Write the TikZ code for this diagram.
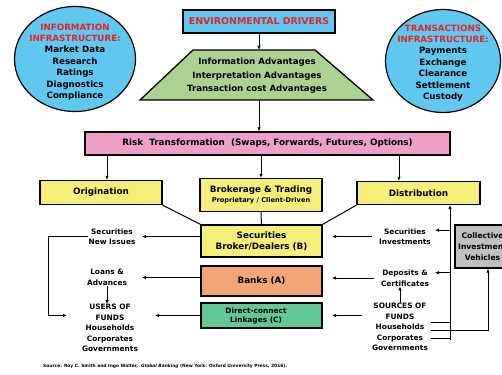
\documentclass[tikz,border=0pt]{standalone}
\usepackage{fontspec}
\setmainfont{DejaVu Sans}
\usetikzlibrary{arrows.meta,shapes.geometric}
\definecolor{skyb}{RGB}{96,200,240}
\definecolor{trapg}{RGB}{172,210,145}
\definecolor{pinkr}{RGB}{240,160,200}
\definecolor{yel}{RGB}{245,238,120}
\definecolor{orng}{RGB}{244,165,120}
\definecolor{tealg}{RGB}{100,200,150}
\definecolor{grayb}{RGB}{192,192,192}
\definecolor{redt}{RGB}{232,35,35}
\begin{document}
\begin{tikzpicture}[x=1pt,y=-1pt,
  every node/.style={inner sep=0pt},
  bx/.style={draw=black, line width=1.3pt, align=center, font=\bfseries\fontsize{8.8}{10.5}\selectfont},
  lbl/.style={align=center, font=\bfseries\fontsize{7.4}{10.5}\selectfont},
  elltxt/.style={align=center, font=\bfseries\fontsize{8.7}{11.4}\selectfont},
  ellbox/.style={draw=black, line width=1.2pt, fill=skyb, ellipse},
  arr/.style={-{Latex[length=4pt,width=3.5pt]}, line width=1pt},
  ln/.style={line width=1pt}]
\useasboundingbox (0,0) rectangle (502,374);
\clip (0,0) rectangle (502,374);

% ellipses
\node[ellbox, minimum width=121pt, minimum height=105pt] (infoell) at (75,59) {};
\node[elltxt] (infotxt) at (75,62) {\textcolor{redt}{INFORMATION}\\\textcolor{redt}{INFRASTRUCTURE:}\\Market Data\\Research\\Ratings\\Diagnostics\\Compliance};
\node[ellbox, minimum width=115pt, minimum height=103pt] (transell) at (443,61) {};
\node[elltxt] (transtxt) at (443,63) {\textcolor{redt}{TRANSACTIONS}\\\textcolor{redt}{INFRASTRUCTURE:}\\Payments\\Exchange\\Clearance\\Settlement\\Custody};

% top
\node[bx, fill=skyb, minimum width=152pt, minimum height=23pt, text=redt, font=\bfseries\fontsize{9.4}{10.5}\selectfont] (env) at (259,21.5) {ENVIRONMENTAL DRIVERS};
\draw[fill=trapg, line width=1.3pt] (193,50) -- (315,50) -- (373,100) -- (140,100) -- cycle;
\coordinate (traptop) at (259,50);
\coordinate (trapbot) at (259,100);
\node[align=center, font=\bfseries\fontsize{8.6}{13.5}\selectfont] (trap) at (257,76) {Information Advantages\\Interpretation Advantages\\Transaction cost Advantages};
\draw[arr] (env.south) -- (traptop);

\node[bx, fill=pinkr, minimum width=365pt, minimum height=23pt] (risk) at (267.5,143.5) {Risk\ \ Transformation\ \ (Swaps, Forwards, Futures, Options)};
\draw[arr] (trapbot) -- (trapbot |- risk.north);

\node[bx, fill=yel, minimum width=122pt, minimum height=24pt] (orig) at (101,192.5) {Origination};
\node[bx, fill=yel, minimum width=122pt, minimum height=33pt] (brok) at (261,195) {Brokerage \& Trading\\[-1pt]{\fontsize{6.6}{8}\selectfont Proprietary / Client-Driven}};
\node[bx, fill=yel, minimum width=123pt, minimum height=23pt] (dist) at (418.5,193) {Distribution};

\draw[arr] ([xshift=6pt]orig.north |- risk.south) -- ([xshift=6pt]orig.north);
\draw[arr] (brok.north |- risk.south) -- (brok.north);
\draw[arr] ([xshift=-19.5pt]dist.north |- risk.south) -- ([xshift=-19.5pt]dist.north);

\node[bx, fill=yel, minimum width=121pt, minimum height=32pt] (bd) at (261.5,241) {Securities\\Broker/Dealers (B)};
\node[bx, fill=orng, minimum width=121pt, minimum height=30pt] (banks) at (261.5,281) {Banks (A)};
\node[bx, fill=tealg, minimum width=121pt, minimum height=25pt] (direct) at (261.5,315.5) {};
\node[align=center, font=\bfseries\fontsize{7.4}{9}\selectfont] (directtxt) at (256,315.5) {Direct-connect\\Linkages (C)};
\node[bx, fill=grayb, minimum width=55pt, minimum height=43pt, font=\bfseries\fontsize{7.6}{11}\selectfont] (coll) at (482.5,246.5) {Collective\\Investment\\Vehicles};

\draw[ln] (orig.south east) -- (bd.north west);
\draw[ln] (dist.south west) -- (bd.north east);
\draw[ln] (brok.south) -- (bd.north);

% left labels
\node[lbl] (secnew) at (112,236.5) {Securities\\New Issues};
\node[lbl] (loans) at (107,277.5) {Loans \&\\Advances};
\node[lbl, anchor=north] (users) at (110,304) {USERS OF\\FUNDS\\Households\\Corporates\\Governments};
\coordinate (lefttip) at (142,0);
\coordinate (utip) at (155,0);
\coordinate (brk) at (48,0);
\coordinate (brktip) at (67,0);
\draw[arr] (bd.west |- secnew) -- (lefttip |- secnew);
\draw[arr] (banks.west |- loans) -- (lefttip |- loans);
\draw[arr] (direct.west) -- (utip |- direct.west);
\draw[arr] (secnew.west) -- (brk |- secnew) -- (brk |- direct.west) -- (brktip |- direct.west);
\draw[arr] (loans.south) -- (loans.south |- users.north);

% right labels
\node[lbl] (secinv) at (405,236.5) {Securities\\Investments};
\node[lbl] (dep) at (405,278) {Deposits \&\\Certificates};
\node[lbl, anchor=north] (src) at (400,303) {SOURCES OF\\FUNDS\\Households\\Corporates\\Governments};
\coordinate (vb) at (450,340);
\coordinate (rtip) at (435,0);
\coordinate (mtip) at (332,0);
\coordinate (sx) at (362,0);
\draw[arr] (vb) -- (vb |- dist.south);
\path ([yshift=-2pt]secinv.north) coordinate (sa);
\path ([yshift=-3pt]dep.north) coordinate (da);
\draw[arr] (sa -| vb) -- (sa -| rtip);
\draw[arr] (da -| vb) -- (da -| rtip);
\draw[arr] (src.north) -- (src.north |- dep.south);
\coordinate (s1) at (431,322);
\coordinate (s2) at (431,330);
\coordinate (s3) at (431,338);
\draw[ln] (s1) -- (s1 -| vb);
\draw[ln] (s3) -- (s3 -| vb);
\draw[arr] (s2) -- ([xshift=5.5pt]coll.south |- s2) -- ([xshift=5.5pt]coll.south);
\draw[arr] ([xshift=-7pt]secinv.west) -- (mtip |- secinv.west);
\draw[arr] ([xshift=-7pt]dep.west) -- (mtip |- dep.west);
\draw[arr] (sx |- direct.west) -- (mtip |- direct.west);

\node[anchor=west, font=\bfseries\fontsize{4.4}{6}\selectfont] (cite) at (43,366) {Source: Roy C. Smith and Ingo Walter,\ \ \textit{Global Banking} (New York: Oxford University Press, 2016).};
\end{tikzpicture}
\end{document}
